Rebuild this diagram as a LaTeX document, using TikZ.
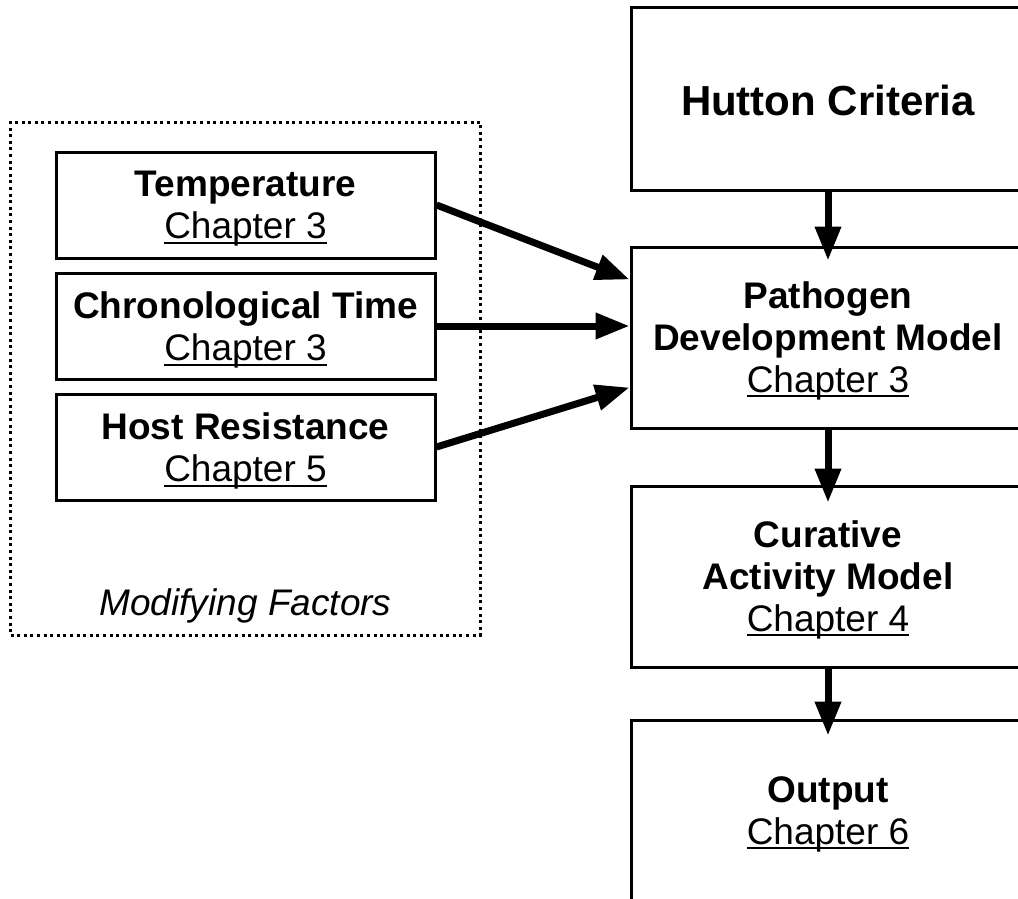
\documentclass[tikz,border=0pt]{standalone}
\usepackage{fontspec}
\setmainfont{Liberation Sans}
\usetikzlibrary{arrows.meta,calc}
% underlined chapter reference with a rule sized for large text
\newcommand\chapterref[1]{\setbox0\hbox{#1}\rlap{\rule[-5pt]{\wd0}{2pt}}\box0}

\begin{document}
\begin{tikzpicture}[x=1pt,y=-1pt,
  box/.style={draw,line width=3pt,rectangle,inner sep=0pt},
  factor/.style={box,minimum width=379pt,minimum height=106pt},
  stage/.style={box,minimum width=394pt},
  txt/.style={align=center,inner sep=0pt,font=\fontsize{37}{42}\selectfont},
  flow/.style={line width=7pt,-{Triangle[width=25pt,length=34pt]}},
  group/.style={draw,line width=3pt,dash pattern=on 3pt off 3.6pt}]

\useasboundingbox (0,0) rectangle (1018,899);
\clip (0,0) rectangle (1018,899);

% modifying factors group
\node[group,minimum width=470pt,minimum height=513pt] (grp) at (245.5,378.5) {};
\node[txt,font=\fontsize{37}{42}\selectfont\itshape] (grplabel) at (245.5,606) {Modifying Factors};

% factor boxes and their labels
\node[factor] (temp) at (245.5,205) {};
\node[factor] (chrono) at (245.5,326) {};
\node[factor] (host) at (245.5,447) {};
\node[txt] (temptext) at ([yshift=-4pt]temp.center) {\textbf{Temperature}\\\chapterref{Chapter 3}};
\node[txt] (chronotext) at ([yshift=-4pt]chrono.center) {\textbf{Chronological Time}\\\chapterref{Chapter 3}};
\node[txt] (hosttext) at ([yshift=-4pt]host.center) {\textbf{Host Resistance}\\\chapterref{Chapter 5}};

% main chain of models
\node[stage,minimum height=182pt] (hutton) at (828,99) {};
\node[stage,minimum height=181pt] (patho) at (828,337.5) {};
\node[stage,minimum height=181pt] (cura) at (828,576.5) {};
\node[stage,minimum height=182pt] (outp) at (828,811) {};
\node[txt,font=\fontsize{42}{48}\selectfont\bfseries] (huttontext) at ([yshift=-1pt]hutton.center) {Hutton Criteria};
\node[txt] (pathotext) at ([yshift=-3pt]patho.center) {\textbf{Pathogen}\\\textbf{Development Model}\\\chapterref{Chapter 3}};
\node[txt] (curatext) at ([yshift=-3pt]cura.center) {\textbf{Curative}\\\textbf{Activity Model}\\\chapterref{Chapter 4}};
\node[txt] (outptext) at ([yshift=-3pt]outp.center) {\textbf{Output}\\\chapterref{Chapter 6}};

\draw[flow] (hutton.south) -- ([yshift=-15pt]patho.north);
\draw[flow] (patho.south) -- ([yshift=-18pt]cura.north);
\draw[flow] (cura.south) -- ([yshift=-17pt]outp.north);

\draw[flow] (temp.east) -- ([yshift=58pt]patho.west);
\draw[flow] (chrono.east) -- (chrono.east -| patho.west);
\draw[flow] (host.east) -- ([yshift=-50pt]patho.west);
\end{tikzpicture}
\end{document}
